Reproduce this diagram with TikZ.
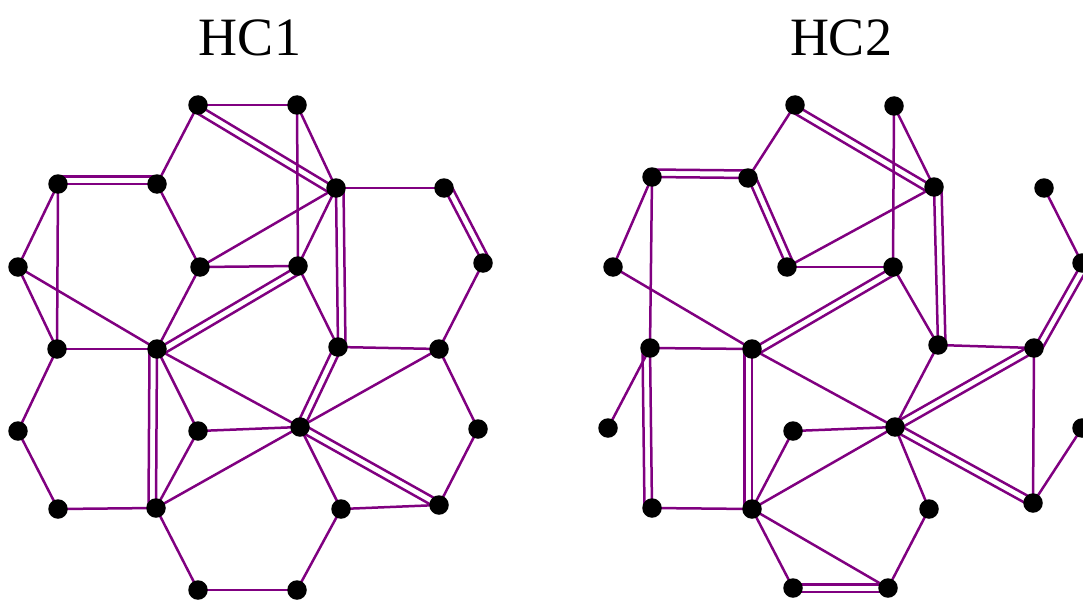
\documentclass[tikz,border=0pt]{standalone}
\usepackage{fontspec}
\setmainfont{Liberation Serif}
\usetikzlibrary{calc}
\definecolor{bondcol}{HTML}{800080}
\pgfdeclarelayer{bg}
\pgfsetlayers{bg,main}
\tikzset{
  vtx/.style={circle, fill=black, draw=none, inner sep=0pt, minimum size=19.5pt},
  bond/.style={draw=bondcol, line width=2.5pt},
  title/.style={font=\fontsize{54}{60}\selectfont, inner sep=0pt}
}
% single bond between two vertices
\newcommand{\sbnd}[2]{\draw[bond] (#1.center) -- (#2.center);}
% double bond: centre line plus a parallel line on the left / right of #1 -> #2
\newcommand{\dbL}[2]{\draw[bond] (#1.center) -- (#2.center);
  \draw[bond] ($(#1.center)!7.5pt!90:(#2.center)$) -- ($(#2.center)!7.5pt!-90:(#1.center)$);}
\newcommand{\dbR}[2]{\draw[bond] (#1.center) -- (#2.center);
  \draw[bond] ($(#1.center)!7.5pt!-90:(#2.center)$) -- ($(#2.center)!7.5pt!90:(#1.center)$);}
% double bond: two lines set symmetrically about the centre line
\newcommand{\dbC}[2]{%
  \draw[bond] ($(#1.center)!3.75pt!90:(#2.center)$) -- ($(#2.center)!3.75pt!-90:(#1.center)$);
  \draw[bond] ($(#1.center)!3.75pt!-90:(#2.center)$) -- ($(#2.center)!3.75pt!90:(#1.center)$);}
\begin{document}
\begin{tikzpicture}[x=1pt,y=-1pt]
\useasboundingbox (0,0) rectangle (1083,599);
\clip (0,0) rectangle (1083,599);

\node[title] (t1) at (250,38) {HC1};
\node[title] (t2) at (841,38) {HC2};

% ---------- HC1 vertices ----------
\foreach \n/\x/\y in {
  a1/198/105, a2/297/105,
  b1/58/184, b2/157/184, c/336/188, d/444/188,
  e/18/267, f/200/267, g/298/266, h/483/263,
  i/57/349, j/157/349, k/338/347, l/439/349,
  m/18/431, n/198/431, o/300/427, p/478/429,
  q/58/509, r/156/508, s/341/509, t/439/505,
  u/198/590, v/297/590}
  \node[vtx] (L\n) at (\x,\y) {};

% ---------- HC2 vertices ----------
\foreach \n/\x/\y in {
  a1/795/105, a2/894/106,
  b1/652/177, b2/748/178, c/934/187, d/1044/188,
  e/613/267, f/787/267, g/893/267, h/1082/263,
  i/650/348, j/752/349, k/938/345, l/1034/348,
  m/608/428, n/793/431, o/895/427, p/1082/428,
  q/652/508, r/752/509, s/929/509, t/1033/503,
  u/793/588, v/888/588}
  \node[vtx] (R\n) at (\x,\y) {};

\begin{pgfonlayer}{bg}
% ---------- HC1 bonds ----------
\sbnd{La1}{La2} \sbnd{La1}{Lb2} \sbnd{La2}{Lg} \sbnd{La2}{Lc}
\sbnd{Lb1}{Le} \sbnd{Lb1}{Li} \sbnd{Le}{Li} \sbnd{Le}{Lj}
\sbnd{Lb2}{Lf} \sbnd{Lf}{Lc} \sbnd{Lf}{Lg} \sbnd{Lf}{Lj}
\sbnd{Lc}{Lg} \sbnd{Lc}{Ld} \sbnd{Lg}{Lk} \sbnd{Lh}{Ll}
\sbnd{Lk}{Ll} \sbnd{Ll}{Lo} \sbnd{Ll}{Lp} \sbnd{Lp}{Lt}
\sbnd{Lo}{Ls} \sbnd{Ls}{Lt} \sbnd{Ls}{Lv} \sbnd{Li}{Lj}
\sbnd{Lj}{Lo} \sbnd{Lj}{Ln} \sbnd{Ln}{Lr} \sbnd{Lr}{Lo}
\sbnd{Ln}{Lo} \sbnd{Li}{Lm} \sbnd{Lm}{Lq} \sbnd{Lq}{Lr}
\sbnd{Lr}{Lu} \sbnd{Lu}{Lv}
\dbR{La1}{Lc} \dbL{Lb1}{Lb2} \dbL{Lc}{Lk} \dbL{Ld}{Lh}
\dbR{Lj}{Lg} \dbR{Lj}{Lr} \dbC{Lk}{Lo} \dbC{Lo}{Lt}

% ---------- HC2 bonds ----------
\sbnd{Ra1}{Rb2} \sbnd{Ra2}{Rg} \sbnd{Ra2}{Rc}
\sbnd{Rb1}{Re} \sbnd{Rb1}{Ri} \sbnd{Rf}{Rc} \sbnd{Rf}{Rg}
\sbnd{Re}{Rj} \sbnd{Ri}{Rj} \sbnd{Rg}{Rk} \sbnd{Rk}{Rl}
\sbnd{Rd}{Rh} \sbnd{Rl}{Rt} \sbnd{Rt}{Rp} \sbnd{Rk}{Ro}
\sbnd{Ro}{Rj} \sbnd{Ro}{Rn} \sbnd{Ro}{Rr} \sbnd{Rn}{Rr}
\sbnd{Ro}{Rs} \sbnd{Rs}{Rv} \sbnd{Rr}{Ru} \sbnd{Rr}{Rv}
\sbnd{Ri}{Rm} \sbnd{Rq}{Rr}
\dbR{Ra1}{Rc} \dbL{Rb1}{Rb2} \dbL{Rb2}{Rf} \dbL{Rc}{Rk}
\dbR{Rj}{Rg} \dbR{Ri}{Rq} \dbR{Rj}{Rr} \dbL{Rh}{Rl}
\dbC{Ro}{Rl} \dbC{Ro}{Rt} \dbC{Ru}{Rv}
\end{pgfonlayer}
\end{tikzpicture}
\end{document}
